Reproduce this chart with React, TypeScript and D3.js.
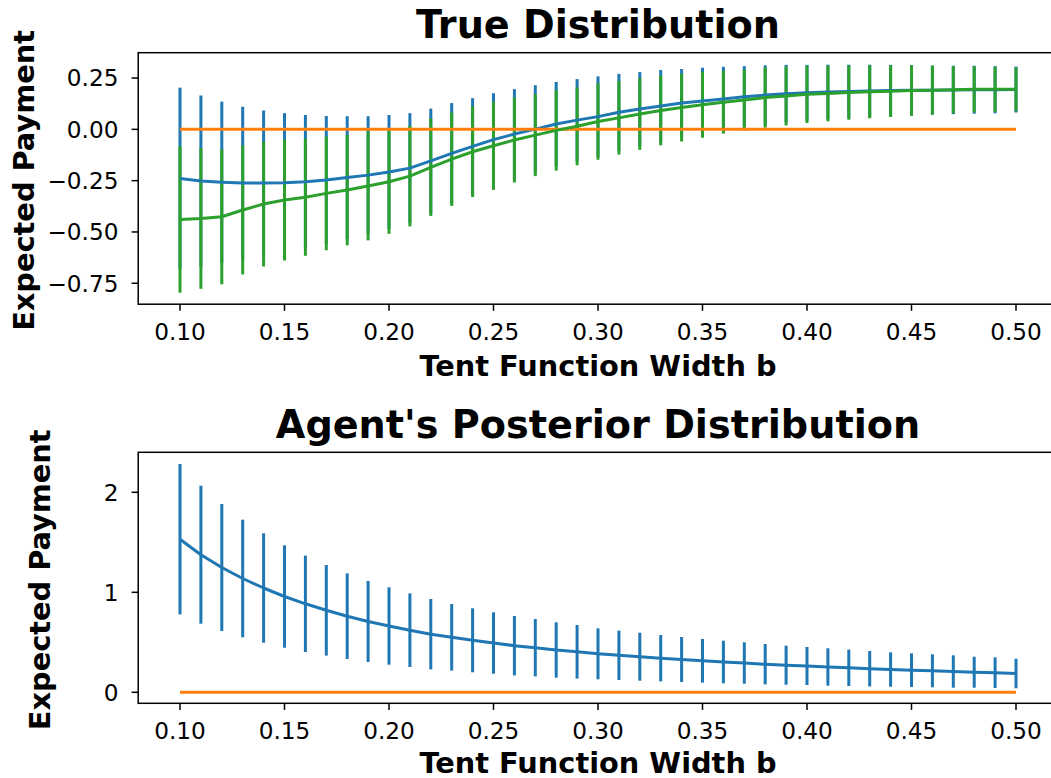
import React from "react";
import * as d3 from "d3";

// Tent function widths b
const widths = [
  0.1, 0.11, 0.12, 0.13, 0.14, 0.15, 0.16, 0.17, 0.18, 0.19, 0.2, 0.21, 0.22, 0.23,
  0.24, 0.25, 0.26, 0.27, 0.28, 0.29, 0.3, 0.31, 0.32, 0.33, 0.34, 0.35, 0.36, 0.37,
  0.38, 0.39, 0.4, 0.41, 0.42, 0.43, 0.44, 0.45, 0.46, 0.47, 0.48, 0.49, 0.5,
];

// True distribution, first scoring rule (blue)
const trueMeanA = [
  -0.239, -0.252, -0.258, -0.262, -0.262, -0.26, -0.255, -0.247, -0.235, -0.223,
  -0.208, -0.189, -0.154, -0.117, -0.083, -0.05, -0.023, 0.001, 0.026, 0.045,
  0.062, 0.083, 0.099, 0.114, 0.128, 0.138, 0.148, 0.159, 0.167, 0.174, 0.178,
  0.182, 0.185, 0.187, 0.189, 0.19, 0.191, 0.192, 0.193, 0.193, 0.194,
];
const trueErrA = [
  0.442, 0.417, 0.393, 0.372, 0.354, 0.339, 0.325, 0.312, 0.299, 0.287, 0.278,
  0.268, 0.255, 0.245, 0.235, 0.226, 0.219, 0.214, 0.205, 0.2, 0.196, 0.187, 0.18,
  0.175, 0.166, 0.162, 0.157, 0.149, 0.145, 0.14, 0.136, 0.133, 0.13, 0.128,
  0.125, 0.123, 0.12, 0.118, 0.117, 0.115, 0.112,
];

// True distribution, baseline (orange)
const baselineMean = [
  0, 0, 0, 0, 0, 0, 0, 0, 0, 0, 0, 0, 0, 0, 0, 0, 0, 0, 0, 0, 0, 0, 0, 0, 0, 0, 0,
  0, 0, 0, 0, 0, 0, 0, 0, 0, 0, 0, 0, 0, 0,
];
const baselineErr = [
  0, 0, 0, 0, 0, 0, 0, 0, 0, 0, 0, 0, 0, 0, 0, 0, 0, 0, 0, 0, 0, 0, 0, 0, 0, 0, 0,
  0, 0, 0, 0, 0, 0, 0, 0, 0, 0, 0, 0, 0, 0,
];

// True distribution, second scoring rule (green)
const trueMeanB = [
  -0.439, -0.434, -0.426, -0.393, -0.364, -0.344, -0.331, -0.312, -0.296, -0.276,
  -0.255, -0.228, -0.185, -0.145, -0.109, -0.08, -0.052, -0.028, -0.005, 0.015,
  0.038, 0.056, 0.075, 0.092, 0.106, 0.12, 0.132, 0.143, 0.155, 0.162, 0.171,
  0.175, 0.179, 0.183, 0.186, 0.189, 0.191, 0.193, 0.195, 0.195, 0.195,
];
const trueErrB = [
  0.357, 0.343, 0.329, 0.314, 0.304, 0.295, 0.285, 0.277, 0.269, 0.265, 0.254,
  0.245, 0.237, 0.228, 0.221, 0.215, 0.207, 0.2, 0.196, 0.19, 0.186, 0.179, 0.175,
  0.17, 0.165, 0.161, 0.153, 0.149, 0.147, 0.143, 0.14, 0.136, 0.132, 0.129,
  0.126, 0.123, 0.119, 0.115, 0.112, 0.11, 0.106,
];

// Agent's posterior distribution (blue)
const posteriorMean = [
  1.531, 1.376, 1.248, 1.138, 1.043, 0.958, 0.885, 0.82, 0.761, 0.708, 0.663,
  0.621, 0.581, 0.55, 0.52, 0.493, 0.466, 0.446, 0.423, 0.405, 0.385, 0.37, 0.356,
  0.341, 0.328, 0.315, 0.303, 0.293, 0.281, 0.271, 0.263, 0.253, 0.245, 0.236,
  0.228, 0.221, 0.215, 0.208, 0.201, 0.196, 0.188,
];
const posteriorErr = [
  0.752, 0.69, 0.635, 0.588, 0.547, 0.512, 0.482, 0.453, 0.428, 0.405, 0.387,
  0.368, 0.352, 0.333, 0.32, 0.307, 0.297, 0.287, 0.277, 0.268, 0.255, 0.247, 0.24,
  0.232, 0.225, 0.218, 0.213, 0.207, 0.202, 0.195, 0.19, 0.187, 0.182, 0.177,
  0.172, 0.168, 0.165, 0.162, 0.155, 0.153, 0.148,
];

// Tick values
const xTicks = [0.1, 0.15, 0.2, 0.25, 0.3, 0.35, 0.4, 0.45, 0.5];
const topYTicks = [0.25, 0, -0.25, -0.5, -0.75];
const bottomYTicks = [0, 1, 2];

const BLUE = "#1f77b4";
const ORANGE = "#ff7f0e";
const GREEN = "#2ca02c";
const FONT = "'DejaVu Sans', sans-serif";
const TICK_SIZE = 23.2;
const LABEL_SIZE = 28.8;
const TITLE_SIZE = 38.2;

type Series = { mean: number[]; err: number[]; color: string };

type PanelProps = {
  top: number;
  bottom: number;
  yDomain: [number, number];
  yTicks: number[];
  yFormat: (v: number) => string;
  title: string;
  titleBaseline: number;
  tickBaseline: number;
  xLabelBaseline: number;
  yLabelX: number;
  series: Series[];
};

const AXIS_LEFT = 138.2;
const AXIS_RIGHT = 1057.8;
const x = d3.scaleLinear().domain([0.08, 0.52]).range([AXIS_LEFT, AXIS_RIGHT]);
const fmtX = d3.format(".2f");
const minus = (s: string) => s.replace("-", "\u2212");

function Panel(p: PanelProps) {
  const y = d3.scaleLinear().domain(p.yDomain).range([p.bottom, p.top]);
  const line = d3
    .line<number>()
    .x((_, i) => x(widths[i]))
    .y((v) => y(v));
  const cx = (AXIS_LEFT + AXIS_RIGHT) / 2;
  const cy = (p.top + p.bottom) / 2;
  const lw = 3;
  return (
    <g>
      {/* error bars first, then mean lines on top */}
      {p.series.map((s, si) => (
        <g key={"bars" + si}>
          {s.mean.map((m, i) =>
            s.err[i] > 0 ? (
              <line
                key={i}
                x1={x(widths[i])}
                x2={x(widths[i])}
                y1={y(m - s.err[i])}
                y2={y(m + s.err[i])}
                stroke={s.color}
                strokeWidth={lw}
              />
            ) : null
          )}
        </g>
      ))}
      {p.series.map((s, si) => (
        <path
          key={"line" + si}
          d={line(s.mean) || ""}
          fill="none"
          stroke={s.color}
          strokeWidth={lw}
          strokeLinejoin="round"
        />
      ))}
      {/* spines */}
      <rect
        x={AXIS_LEFT}
        y={p.top}
        width={AXIS_RIGHT - AXIS_LEFT}
        height={p.bottom - p.top}
        fill="none"
        stroke="#000"
        strokeWidth={1.5}
      />
      {/* x ticks */}
      {xTicks.map((t) => (
        <g key={"xt" + t}>
          <line x1={x(t)} x2={x(t)} y1={p.bottom} y2={p.bottom + 6.6} stroke="#000" strokeWidth={1.5} />
          <text
            x={x(t)}
            y={p.tickBaseline}
            textAnchor="middle"
            fontFamily={FONT}
            fontSize={TICK_SIZE}
            fill="#000"
          >
            {fmtX(t)}
          </text>
        </g>
      ))}
      {/* y ticks */}
      {p.yTicks.map((t) => (
        <g key={"yt" + t}>
          <line x1={AXIS_LEFT - 6.6} x2={AXIS_LEFT} y1={y(t)} y2={y(t)} stroke="#000" strokeWidth={1.5} />
          <text
            x={118.5}
            y={y(t)}
            dy="0.36em"
            textAnchor="end"
            fontFamily={FONT}
            fontSize={TICK_SIZE}
            fill="#000"
          >
            {minus(p.yFormat(t))}
          </text>
        </g>
      ))}
      <text
        x={cx}
        y={p.titleBaseline}
        textAnchor="middle"
        fontFamily={FONT}
        fontWeight="bold"
        fontSize={TITLE_SIZE}
        fill="#000"
      >
        {p.title}
      </text>
      <text
        x={cx}
        y={p.xLabelBaseline}
        textAnchor="middle"
        fontFamily={FONT}
        fontWeight="bold"
        fontSize={LABEL_SIZE}
        fill="#000"
      >
        Tent Function Width b
      </text>
      <text
        transform={`translate(${p.yLabelX},${cy + 2}) rotate(-90)`}
        textAnchor="middle"
        fontFamily={FONT}
        fontWeight="bold"
        fontSize={LABEL_SIZE}
        fill="#000"
      >
        Expected Payment
      </text>
    </g>
  );
}

export default function App() {
  return (
    <svg
      width={1051}
      height={778}
      viewBox="0 0 1051 778"
      style={{ display: "block", position: "absolute", left: 0, top: 0, background: "#fff" }}
    >
      <rect width={1051} height={778} fill="#fff" />
      <Panel
        top={52.7}
        bottom={304.2}
        yDomain={[-0.852, 0.3735]}
        yTicks={topYTicks}
        yFormat={d3.format(".2f")}
        title="True Distribution"
        titleBaseline={38}
        tickBaseline={339.5}
        xLabelBaseline={375.5}
        yLabelX={33.5}
        series={[
          { mean: trueMeanA, err: trueErrA, color: BLUE },
          { mean: baselineMean, err: baselineErr, color: ORANGE },
          { mean: trueMeanB, err: trueErrB, color: GREEN },
        ]}
      />
      <Panel
        top={452.3}
        bottom={703.3}
        yDomain={[-0.11, 2.4]}
        yTicks={bottomYTicks}
        yFormat={d3.format("d")}
        title="Agent's Posterior Distribution"
        titleBaseline={438}
        tickBaseline={738.5}
        xLabelBaseline={772.5}
        yLabelX={50}
        series={[
          { mean: posteriorMean, err: posteriorErr, color: BLUE },
          { mean: baselineMean, err: baselineErr, color: ORANGE },
        ]}
      />
    </svg>
  );
}
